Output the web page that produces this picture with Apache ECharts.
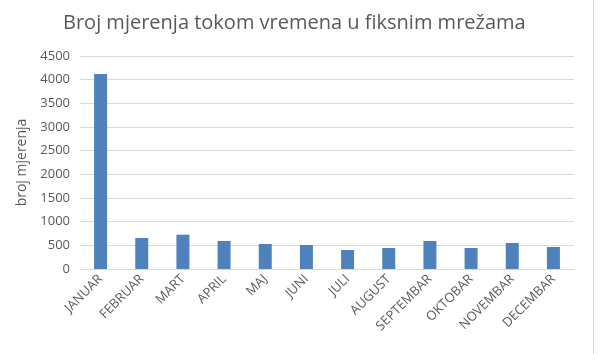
<!DOCTYPE html>
<html><head><meta charset="utf-8">
<script src="https://cdn.jsdelivr.net/npm/echarts@6/dist/echarts.min.js"></script>
<style>html,body{margin:0;padding:0;background:#fff}#c{width:601px;height:354px}</style>
</head><body><div id="c"></div>
<script>
const categories = ['JANUAR','FEBRUAR','MART','APRIL','MAJ','JUNI','JULI','AUGUST','SEPTEMBAR','OKTOBAR','NOVEMBAR','DECEMBAR'];
const values = [4120, 655, 725, 592, 528, 507, 401, 444, 592, 444, 549, 465];
const yTicks = [0, 500, 1000, 1500, 2000, 2500, 3000, 3500, 4000, 4500];
const titleText = 'Broj mjerenja tokom vremena u fiksnim mrežama';
const yName = 'broj mjerenja';

const chart = echarts.init(document.getElementById('c'), null, {renderer:'canvas'});
const font = 'Open Sans, Liberation Sans, sans-serif';
chart.setOption({
  animation:false,
  title:{text:titleText,left:58,top:8,textStyle:{fontFamily:font,fontSize:20,fontWeight:'normal',color:'#595959'}},
  grid:{left:80,right:27,top:56,bottom:85},
  xAxis:{type:'category',data:categories,
    axisLine:{lineStyle:{color:'#d9d9d9'}},axisTick:{show:false},
    axisLabel:{rotate:45,interval:0,color:'#595959',fontFamily:font,fontSize:13,margin:8}},
  yAxis:{type:'value',min:yTicks[0],max:yTicks[yTicks.length-1],interval:500,
    name:yName,nameLocation:'middle',nameGap:50,nameRotate:90,
    nameTextStyle:{color:'#595959',fontFamily:font,fontSize:14},
    axisLine:{show:false},axisTick:{show:false},
    axisLabel:{color:'#595959',fontFamily:font,fontSize:13,margin:10,formatter:v=>String(v)},
    splitLine:{lineStyle:{color:'#d9d9d9'}}},
  series:[{type:'bar',data:values,barWidth:13,itemStyle:{color:'#4f81bd'}}],
  graphic:[{type:'line',shape:{x1:593.5,y1:0,x2:593.5,y2:354},style:{stroke:'#d9d9d9',lineWidth:1}}]
});
</script></body></html>
